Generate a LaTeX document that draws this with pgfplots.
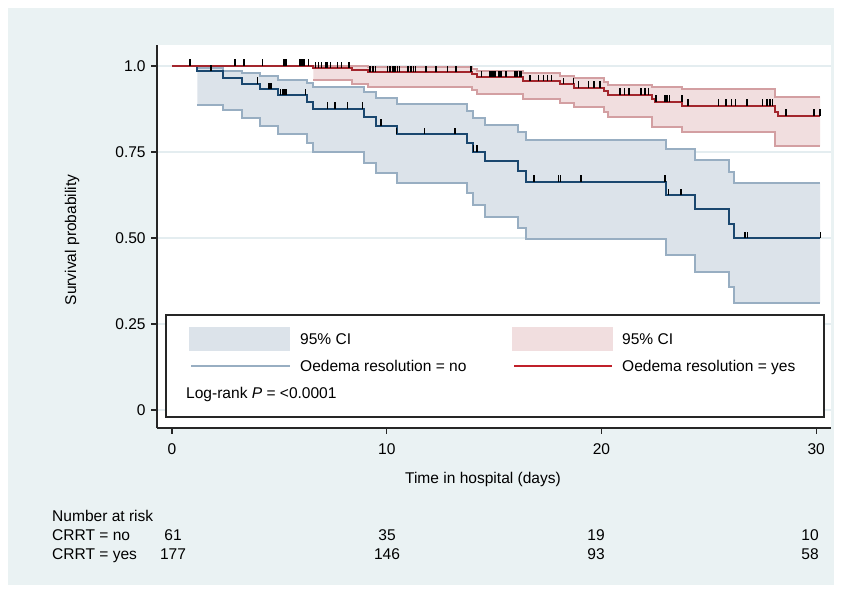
\documentclass[border=0pt]{standalone}
\usepackage{fontspec}
\setmainfont{Liberation Sans}
\usepackage{pgfplots}
\usepackage{pgfplotstable}
\pgfplotsset{compat=1.18}
\usepgfplotslibrary{fillbetween}
\definecolor{bgc}{HTML}{EAF2F3}
\definecolor{gridc}{HTML}{E4EDF0}
\definecolor{bmain}{HTML}{1A476F}
\definecolor{bci}{HTML}{98AEC2}
\definecolor{bfill}{HTML}{DCE3EA}
\definecolor{rmain}{HTML}{A3262D}
\definecolor{rleg}{HTML}{C0202A}
\definecolor{rci}{HTML}{D39FA2}
\definecolor{rfill}{HTML}{F1DEDF}
\pgfdeclareplotmark{cens}{\pgfpathmoveto{\pgfqpoint{0pt}{0pt}}\pgfpathlineto{\pgfqpoint{0pt}{6.5pt}}\pgfusepathqstroke}

% Oedema resolution = no
\pgfplotstableread{
x y
0 1
1.18 0.984
2.36 0.966
3.24 0.949
4.10 0.932
4.95 0.915
6.27 0.896
6.55 0.876
8.96 0.851
9.50 0.826
10.46 0.802
13.72 0.777
14.03 0.751
14.58 0.724
16.13 0.694
16.49 0.664
23.00 0.625
24.36 0.583
25.96 0.540
26.18 0.500
30.18 0.500
}\bkm
\pgfplotstableread{
x y
1.18 0.993
2.36 0.986
3.24 0.979
4.10 0.971
4.95 0.960
6.27 0.950
6.55 0.939
8.96 0.923
9.50 0.908
10.46 0.889
13.72 0.869
14.03 0.850
14.58 0.828
16.13 0.807
16.49 0.785
23.00 0.758
24.36 0.727
25.96 0.691
26.18 0.659
30.18 0.659
}\bup
\pgfplotstableread{
x y
1.18 0.887
2.36 0.872
3.24 0.848
4.10 0.826
4.95 0.802
6.27 0.775
6.55 0.749
8.96 0.719
9.50 0.690
10.46 0.661
13.72 0.630
14.03 0.596
14.58 0.562
16.13 0.528
16.49 0.497
23.00 0.451
24.36 0.402
25.96 0.358
26.18 0.312
30.18 0.312
}\blo
% Oedema resolution = yes
\pgfplotstableread{
x y
0 1
6.58 0.994
8.40 0.988
9.13 0.982
13.96 0.976
14.20 0.968
16.36 0.956
18.07 0.947
18.72 0.937
20.10 0.927
20.30 0.917
22.36 0.905
22.50 0.896
23.74 0.885
28.10 0.867
28.20 0.855
30.18 0.855
}\rkm
\pgfplotstableread{
x y
6.58 0.999
9.13 0.996
13.96 0.992
14.20 0.986
16.36 0.979
18.07 0.972
18.72 0.964
20.10 0.954
20.30 0.945
22.36 0.940
23.74 0.932
28.10 0.911
30.18 0.911
}\rup
\pgfplotstableread{
x y
6.58 0.958
8.40 0.947
9.13 0.940
13.96 0.930
14.20 0.918
16.36 0.904
18.07 0.893
18.72 0.880
20.10 0.866
20.30 0.853
22.36 0.823
23.74 0.807
28.10 0.767
30.18 0.767
}\rlo

\begin{document}
\fontsize{15.6}{18}\selectfont
\begin{tikzpicture}[x=1bp,y=1bp]
\begin{axis}[
  at={(157bp,168bp)}, anchor=south west,
  scale only axis, width=674bp, height=383bp,
  xmin=-0.7, xmax=30.69, ymin=-0.052, ymax=1.061,
  axis x line*=bottom, axis y line*=left,
  axis line style={-, line width=1.2bp, black!85},
  xtick={0,10,20,30}, xticklabels={0,10,20,30},
  ytick={0,0.25,0.5,0.75,1}, yticklabels={0,0.25,0.50,0.75,1.0},
  tick align=outside, major tick length=6bp,
  xtick pos=bottom, ytick pos=left,
  tick style={line width=1.2bp, black!85},
  ymajorgrids, grid style={line width=1.2bp, gridc},
  xticklabel style={yshift=-4bp},
  clip=true,
]
\addplot[const plot, draw=none, name path=bu] table {\bup};
\addplot[const plot, draw=none, name path=bl] table {\blo};
\addplot[fill=bfill, draw=none] fill between[of=bu and bl];
\addplot[const plot, draw=none, name path=ru] table {\rup};
\addplot[const plot, draw=none, name path=rl] table {\rlo};
\addplot[fill=rfill, draw=none] fill between[of=ru and rl];
\addplot[const plot, draw=bci, line width=2bp] table {\bup};
\addplot[const plot, draw=bci, line width=2bp] table {\blo};
\addplot[const plot, draw=rci, line width=2bp] table {\rup};
\addplot[const plot, draw=rci, line width=2bp] table {\rlo};
\addplot[const plot, draw=bmain, line width=2bp] table {\bkm};
\addplot[const plot, draw=rmain, line width=2bp] table {\rkm};
% censoring ticks
\addplot[only marks, mark=cens, mark options={line width=1.5bp, black}] coordinates {
(1.82,0.984)(3.99,0.949)(4.49,0.932)(4.56,0.932)(4.64,0.932)(5.06,0.915)(5.16,0.915)(5.26,0.915)(5.34,0.915)(6.22,0.915)
(7.24,0.876)(7.59,0.876)(8.18,0.876)(8.88,0.876)(9.73,0.826)(10.46,0.802)(11.75,0.802)(13.18,0.802)(14.05,0.751)(14.2,0.751)
(16.86,0.664)(18.0,0.664)(18.1,0.664)(19.05,0.664)(22.96,0.664)(23.12,0.625)(23.71,0.625)(26.69,0.5)(26.8,0.5)(30.2,0.5)
};
\addplot[only marks, mark=cens, mark options={line width=1.5bp, black}] coordinates {
(0.84,1)(2.93,1)(3.35,1)(4.22,1)(5.19,1)(5.25,1)(5.31,1)(5.93,1)(6.01,1)(6.09,1)(6.16,1)(6.35,1)
(6.69,0.994)(6.82,0.994)(6.97,0.994)(7.16,0.994)(7.23,0.994)(7.37,0.994)(7.70,0.994)(7.90,0.994)(8.21,0.994)(8.26,0.994)
(9.22,0.982)(9.35,0.982)(9.47,0.982)(10.03,0.982)(10.15,0.982)(10.28,0.982)(10.39,0.982)(10.5,0.982)(10.59,0.982)(11.0,0.982)(11.12,0.982)(11.24,0.982)(11.35,0.982)(11.83,0.982)(12.3,0.982)(12.84,0.982)(13.23,0.982)(13.93,0.982)
(14.42,0.968)(14.81,0.968)(14.89,0.968)(14.96,0.968)(15.04,0.968)(15.2,0.968)(15.28,0.968)(15.35,0.968)(15.56,0.968)(15.98,0.968)(16.06,0.968)(16.18,0.968)(16.26,0.968)
(16.67,0.956)(17.06,0.956)(17.29,0.956)(17.48,0.956)(17.68,0.956)
(18.23,0.947)(18.69,0.947)
(18.92,0.937)(19.39,0.937)(19.66,0.937)(19.94,0.937)
(20.87,0.917)(21.07,0.917)(21.29,0.917)(21.85,0.917)(22.03,0.917)(22.2,0.917)
(22.53,0.896)(22.96,0.896)(23.06,0.896)(23.16,0.896)(23.74,0.896)
(24.02,0.885)(25.44,0.885)(25.8,0.885)(26.05,0.885)(26.25,0.885)(26.77,0.885)(27.51,0.885)(27.7,0.885)(27.84,0.885)(27.97,0.885)
(28.6,0.855)(29.9,0.855)(30.18,0.855)
};
\end{axis}
\begin{pgfonlayer}{axis background}
\fill[white] (0,0) rectangle (842,596);
\fill[bgc] (8,11) rectangle (834,588);
\fill[white] (157,168) rectangle (831,551);
\end{pgfonlayer}
% legend
\draw[fill=white, line width=1.2bp, draw=black!85] (166,179) rectangle (824,281);
\fill[bfill] (189,245) rectangle (290,269);
\draw[bci, line width=2bp] (191,230) -- (290,230);
\fill[rfill] (512,245) rectangle (613,269);
\draw[rleg, line width=2bp] (514,230) -- (612,230);
\node[anchor=base west, inner sep=0pt] at (300,251) {95\% CI};
\node[anchor=base west, inner sep=0pt] at (300,224) {Oedema resolution = no};
\node[anchor=base west, inner sep=0pt] at (622,251) {95\% CI};
\node[anchor=base west, inner sep=0pt] at (622,224) {Oedema resolution = yes};
\node[anchor=base west, inner sep=0pt] at (186,197) {Log-rank \textit{P} = <0.0001};
% axis titles
\node[anchor=base, inner sep=0pt] at (483,112) {Time in hospital (days)};
\node[rotate=90, inner sep=0pt] at (72,356) {Survival probability};
% number at risk
\node[anchor=base west, inner sep=0pt] at (52,74) {Number at risk};
\node[anchor=base west, inner sep=0pt] at (52,55) {CRRT = no};
\node[anchor=base west, inner sep=0pt] at (52,36) {CRRT = yes};
\foreach \xx/\a/\b in {173/61/177, 387/35/146, 596/19/93, 810/10/58} {
  \node[anchor=base, inner sep=0pt] at (\xx,55) {\a};
  \node[anchor=base, inner sep=0pt] at (\xx,36) {\b};
}
\end{tikzpicture}
\end{document}
